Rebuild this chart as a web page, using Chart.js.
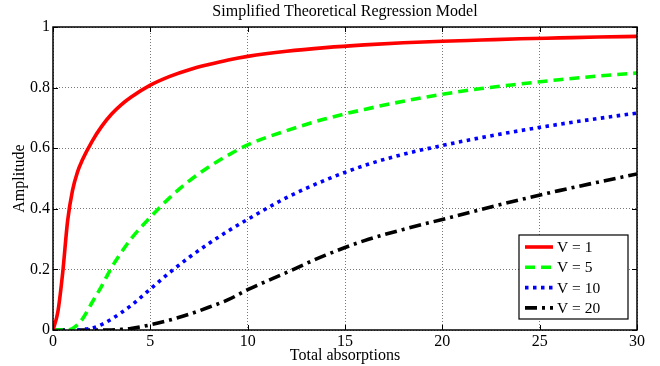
<!DOCTYPE html>
<html>
<head>
<meta charset="utf-8">
<script src="https://cdn.jsdelivr.net/npm/chart.js@4"></script>
<style>
  html, body { margin: 0; padding: 0; background: #fff; }
  #wrap { width: 660px; height: 366px; }
</style>
</head>
<body>
<div id="wrap"><canvas id="c" width="660" height="366"></canvas></div>
<script>
// values
const absorptions = [0, 0.25, 0.5, 0.75, 1, 1.25, 1.5, 2, 2.5, 3, 3.5, 4, 5, 6, 7, 8, 9, 10, 12, 14, 16, 18, 20, 22, 24, 26, 28, 30];
const ampV1  = [0, 0.06, 0.19, 0.36, 0.46, 0.52, 0.56, 0.622, 0.672, 0.712, 0.743, 0.768, 0.808, 0.837, 0.859, 0.876, 0.891, 0.903, 0.92, 0.932, 0.941, 0.948, 0.953, 0.957, 0.961, 0.964, 0.967, 0.969];
const ampV5  = [0, 0, 0, 0, 0.005, 0.017, 0.035, 0.09, 0.145, 0.205, 0.255, 0.3, 0.372, 0.437, 0.492, 0.538, 0.577, 0.611, 0.658, 0.697, 0.728, 0.755, 0.778, 0.797, 0.812, 0.826, 0.838, 0.848];
const ampV10 = [0, 0, 0, 0, 0, 0, 0.002, 0.006, 0.018, 0.036, 0.057, 0.08, 0.135, 0.19, 0.24, 0.285, 0.327, 0.365, 0.437, 0.495, 0.543, 0.58, 0.609, 0.635, 0.658, 0.679, 0.698, 0.716];
const ampV20 = [0, 0, 0, 0, 0, 0, 0, 0, 0, 0, 0.002, 0.005, 0.017, 0.033, 0.052, 0.075, 0.1, 0.133, 0.19, 0.247, 0.295, 0.332, 0.365, 0.398, 0.43, 0.46, 0.488, 0.515];
const seriesLabels = ["V = 1", "V = 5", "V = 10", "V = 20"];
const xTicks = [0, 5, 10, 15, 20, 25, 30];
const yTicks = [0, 0.2, 0.4, 0.6, 0.8, 1];
const chartTitle = "Simplified Theoretical Regression Model";

const serif = "'Liberation Serif', 'DejaVu Serif', serif";

function pts(ys) {
    return absorptions.map((x, i) => ({ x: x, y: ys[i] }));
}

function makeSet(label, ys, color, dash) {
    return {
        label: label,
        data: pts(ys),
        borderColor: color,
        backgroundColor: color,
        borderWidth: 3.6,
        borderDash: dash,
        pointRadius: 0,
        fill: false,
        cubicInterpolationMode: "monotone",
        borderCapStyle: "butt"
    };
}

// title, box + inward ticks, legend (matlab style)
const boxPlugin = {
    id: "boxPlugin",
    afterDatasetsDraw(chart) {
        const { ctx, chartArea: a, scales } = chart;
        ctx.save();
        ctx.strokeStyle = "#000";
        ctx.lineWidth = 1;
        ctx.beginPath();
        xTicks.forEach(t => {
            const px = Math.round(scales.x.getPixelForValue(t)) + 0.5;
            ctx.moveTo(px, a.bottom); ctx.lineTo(px, a.bottom - 5);
            ctx.moveTo(px, a.top); ctx.lineTo(px, a.top + 5);
        });
        yTicks.forEach(t => {
            const py = Math.round(scales.y.getPixelForValue(t)) + 0.5;
            ctx.moveTo(a.left, py); ctx.lineTo(a.left + 5, py);
            ctx.moveTo(a.right, py); ctx.lineTo(a.right - 5, py);
        });
        ctx.stroke();
        ctx.lineWidth = 1.5;
        ctx.strokeRect(a.left, a.top, a.right - a.left, a.bottom - a.top);

        ctx.fillStyle = "#000";
        ctx.font = "16px " + serif;
        ctx.textAlign = "center";
        ctx.textBaseline = "middle";
        ctx.fillText(chartTitle, (a.left + a.right) / 2, 12);
        ctx.restore();
    },
    afterDraw(chart) {
        const ctx = chart.ctx;
        const bx = 519, by = 235, bw = 109, bh = 84;
        ctx.save();
        ctx.fillStyle = "#fff";
        ctx.fillRect(bx, by, bw, bh);
        ctx.strokeStyle = "#000";
        ctx.lineWidth = 1.2;
        ctx.strokeRect(bx, by, bw, bh);
        ctx.font = "15.5px " + serif;
        ctx.textBaseline = "middle";
        chart.data.datasets.forEach((ds, i) => {
            const y = by + 12 + i * 20.3;
            ctx.beginPath();
            ctx.strokeStyle = ds.borderColor;
            ctx.lineWidth = ds.borderWidth;
            ctx.setLineDash(ds.borderDash || []);
            ctx.moveTo(bx + 6, y);
            ctx.lineTo(bx + 34, y);
            ctx.stroke();
            ctx.setLineDash([]);
            ctx.fillStyle = "#000";
            ctx.fillText(ds.label, bx + 38, y + 1);
        });
        ctx.restore();
    }
};

const ctx = document.getElementById("c");
new Chart(ctx, {
    type: "line",
    data: {
        datasets: [
            makeSet(seriesLabels[0], ampV1, "#ff0000", []),
            makeSet(seriesLabels[1], ampV5, "#00ff00", [10, 6]),
            makeSet(seriesLabels[2], ampV10, "#0000ff", [3.5, 4.5]),
            makeSet(seriesLabels[3], ampV20, "#000000", [12, 5, 3, 5])
        ]
    },
    options: {
        responsive: false,
        animation: false,
        devicePixelRatio: 1,
        layout: { padding: { left: 0, right: 23, top: 27, bottom: 0 } },
        plugins: {
            legend: { display: false },
            tooltip: { enabled: false },
            title: { display: false }
        },
        scales: {
            x: {
                type: "linear",
                min: 0, max: 30,
                afterFit(scale) { scale.height = 36; },
                afterBuildTicks(scale) { scale.ticks = xTicks.map(v => ({ value: v })); },
                ticks: {
                    autoSkip: false,
                    maxRotation: 0,
                    padding: 2,
                    color: "#000",
                    font: { family: serif, size: 16 }
                },
                grid: {
                    color: "#777",
                    lineWidth: 1,
                    drawTicks: false
                },
                border: { display: false, dash: [1, 2] },
                title: {
                    display: true,
                    text: "Total absorptions",
                    color: "#000",
                    font: { family: serif, size: 16 },
                    padding: { top: 0, bottom: 1 }
                }
            },
            y: {
                min: 0, max: 1,
                afterFit(scale) { scale.width = 53; },
                afterBuildTicks(scale) { scale.ticks = yTicks.map(v => ({ value: v })); },
                ticks: {
                    padding: 3,
                    color: "#000",
                    font: { family: serif, size: 16 },
                    callback: v => String(+v.toFixed(1))
                },
                grid: {
                    color: "#777",
                    lineWidth: 1,
                    drawTicks: false
                },
                border: { display: false, dash: [1, 2] },
                title: {
                    display: true,
                    text: "Amplitude",
                    color: "#000",
                    font: { family: serif, size: 16 },
                    padding: { top: 10, bottom: 0 }
                }
            }
        }
    },
    plugins: [boxPlugin]
});
</script>
</body>
</html>
